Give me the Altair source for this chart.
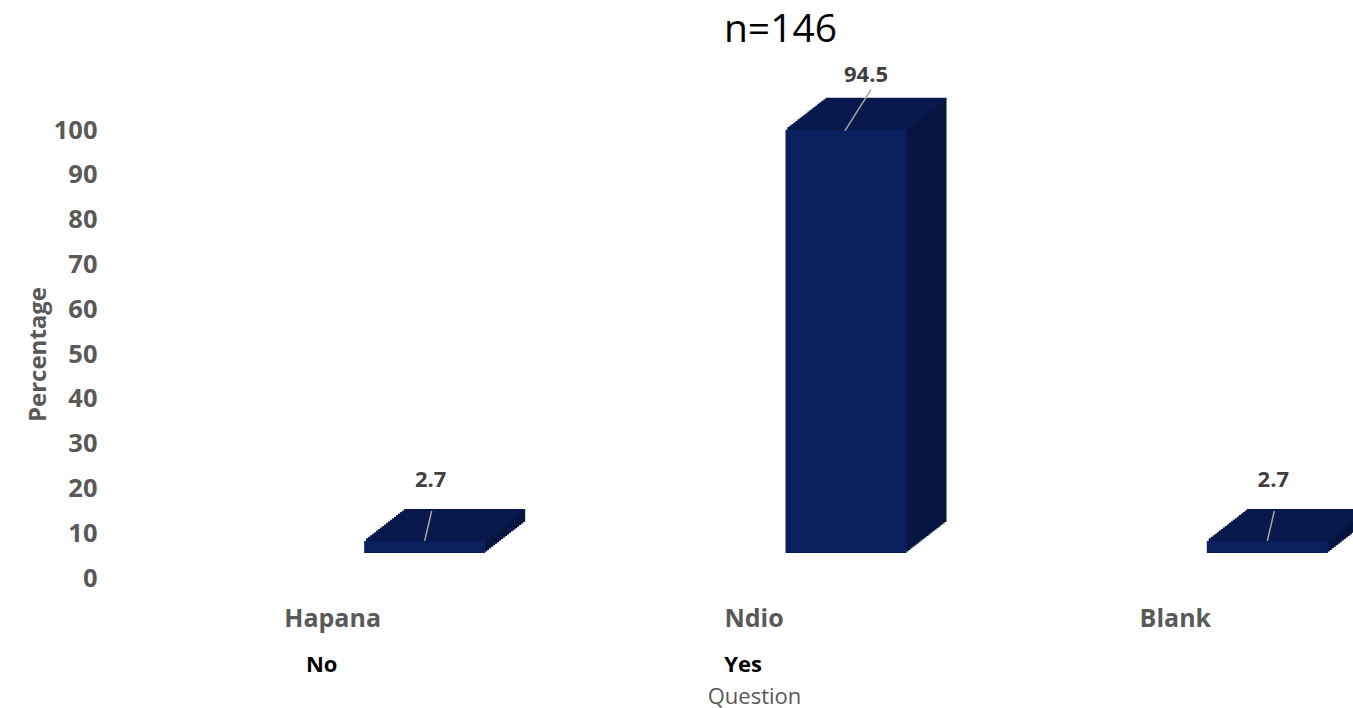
import altair as alt
import pandas as pd

categories = ["Hapana", "Ndio", "Blank"]
values = [2.7, 94.5, 2.7]
english_cats = ["Hapana", "Ndio"]
english = ["No", "Yes"]
y_ticks = list(range(0, 101, 10))

df = pd.DataFrame({"cat": categories, "val": values})
df_en = pd.DataFrame({"cat": english_cats, "en": english})

FONT = "Open Sans"
FRONT = "#0A1F5E"
TOP = "#08194D"
SIDE = "#061540"
BAR_W = 121
DX0, DY0 = 92, -25
DEPTH_X, DEPTH_Y = 40, -31
N = 20

xscale = alt.Scale(domain=categories, range=[0, 1264], paddingInner=0, paddingOuter=0)
yscale = alt.Scale(domain=[0, 100])

x_axis = alt.Axis(title="Question", labelAngle=0, ticks=False, domain=False, grid=False,
                  labelFont=FONT, labelFontSize=25, labelFontWeight="bold", labelColor="#595959",
                  labelPadding=28, titleFont=FONT, titleFontSize=22, titleFontWeight="normal",
                  titleColor="#595959", titlePadding=55)
y_axis = alt.Axis(title="Percentage", values=y_ticks, ticks=False, domain=False, grid=False,
                  labelFont=FONT, labelFontSize=25.5, labelFontWeight="bold", labelColor="#595959",
                  labelPadding=25, titleFont=FONT, titleFontSize=24, titleFontWeight="bold",
                  titleColor="#595959", titlePadding=3)

X = alt.X("cat:N", scale=xscale, sort=categories, axis=x_axis)
Y = alt.Y("val:Q", scale=yscale, axis=y_axis)

base = alt.Chart(df)
layers = []

# side / depth extrusion
for k in range(N, 0, -1):
    dx = DX0 + DEPTH_X * k / N
    dy = DY0 + DEPTH_Y * k / N
    layers.append(base.mark_bar(size=BAR_W, color=SIDE, xOffset=dx, yOffset=dy, y2Offset=dy)
                  .encode(x=X, y=Y))
# top face strips
for k in range(N, 0, -1):
    dx = DX0 + DEPTH_X * k / N
    dy = DY0 + DEPTH_Y * k / N
    layers.append(base.mark_bar(size=BAR_W, color=TOP, xOffset=dx, yOffset=dy - 1, y2Offset=dy + 1.2)
                  .encode(x=X, y=Y, y2="val:Q"))
# front face
layers.append(base.mark_bar(size=BAR_W, color=FRONT, xOffset=DX0, yOffset=DY0, y2Offset=DY0)
              .encode(x=X, y=Y))

# leader lines and labels
big = base.transform_filter("datum.val > 50")
small = base.transform_filter("datum.val <= 50")
layers.append(big.mark_rule(color="#A6A6A6", strokeWidth=1.5, xOffset=91, x2Offset=117,
                            yOffset=-24, y2Offset=-65)
              .encode(x=X, x2="cat:N", y=Y, y2="val:Q"))
layers.append(small.mark_rule(color="#A6A6A6", strokeWidth=1.5, xOffset=92, x2Offset=99,
                              yOffset=-25, y2Offset=-55)
              .encode(x=X, x2="cat:N", y=Y, y2="val:Q"))
layers.append(big.mark_text(font=FONT, fontSize=22, fontWeight="bold", color="#404040",
                            dx=112, dy=-80, baseline="middle")
              .encode(x=X, y=Y, text=alt.Text("val:Q", format=".1f")))
layers.append(small.mark_text(font=FONT, fontSize=22, fontWeight="bold", color="#404040",
                              dx=98, dy=-86, baseline="middle")
              .encode(x=X, y=Y, text=alt.Text("val:Q", format=".1f")))

# English translations under category labels
layers.append(alt.Chart(df_en).mark_text(font=FONT, fontSize=22, fontWeight="bold", color="#000000",
                                         dx=-11, baseline="middle")
              .encode(x=alt.X("cat:N", scale=xscale, sort=categories, axis=x_axis),
                      y=alt.value(535), text="en:N"))

chart = alt.layer(*layers).properties(
    width=1231,
    height=448,
    padding={"left": 122, "top": 130, "right": 0, "bottom": 130},
    autosize=alt.AutoSizeParams(type="none"),
    title=alt.TitleParams("n=146", font=FONT, fontSize=39, fontWeight="normal", color="#000000",
                          anchor="middle", dx=43, offset=14, frame="group"),
).configure(background="white").configure_view(stroke=None)

chart.save("out.html", embed_options={"renderer": "svg", "actions": False})
